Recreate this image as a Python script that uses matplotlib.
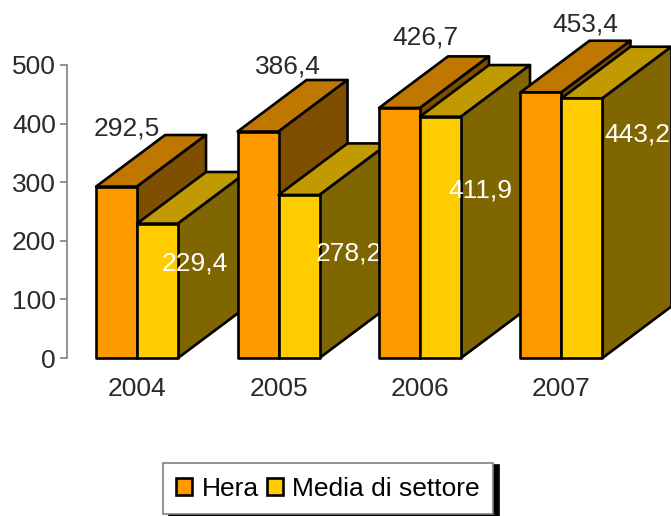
import matplotlib
matplotlib.use("Agg")
import matplotlib.pyplot as plt
from matplotlib.patches import Patch, Polygon

plt.rcParams["font.family"] = ["Liberation Sans", "DejaVu Sans"]

years = ["2004", "2005", "2006", "2007"]
hera = [292.5, 386.4, 426.7, 453.4]
media = [229.4, 278.2, 411.9, 443.2]
yticks = [0, 100, 200, 300, 400, 500]

W, H = 671, 516
TXT = "#2a2a2a"
FS = 19
fig = plt.figure(figsize=(W / 100, H / 100), dpi=100)
ax = fig.add_axes([67 / W, 1 - 358 / H, (W - 67) / W, (358 - 65) / H])
ax.set_xlim(-0.495, 3.774)
ax.set_ylim(0, 500)

# fake 3d depth, in data units
bar_w = 41 / 141.5
dx = 69 / 141.5
dy = 88


def box(x, v, front, top, side, z):
    lw = 1.9
    ax.add_patch(Polygon([(x, v), (x + bar_w, v), (x + bar_w + dx, v + dy), (x + dx, v + dy)],
                         fc=top, ec="black", lw=lw, zorder=z, clip_on=False, joinstyle="round"))
    ax.add_patch(Polygon([(x + bar_w, 0), (x + bar_w + dx, dy), (x + bar_w + dx, v + dy), (x + bar_w, v)],
                         fc=side, ec="black", lw=lw, zorder=z, clip_on=False, joinstyle="round"))
    ax.add_patch(Polygon([(x, 0), (x + bar_w, 0), (x + bar_w, v), (x, v)],
                         fc=front, ec="black", lw=lw, zorder=z, clip_on=False, joinstyle="round"))


# label offsets from top of front face, pixels
hera_off = [(10, 58), (30, 65), (26, 70), (44, 68)]
media_off = [(37, -40), (50, -59), (40, -74), (55, -36)]

for i in range(len(years)):
    z = 2 + i * 2
    box(i - bar_w, hera[i], "#ff9900", "#c07700", "#7f4f00", z)
    box(i, media[i], "#ffcc00", "#c09a00", "#806600", z + 0.5)
    ax.annotate(f"{hera[i]:.1f}".replace(".", ","), (i - bar_w / 2, hera[i]), xytext=hera_off[i],
                textcoords="offset pixels", ha="center", va="center", fontsize=FS,
                color=TXT, zorder=20)
    ax.annotate(f"{media[i]:.1f}".replace(".", ","), (i + bar_w / 2, media[i]), xytext=media_off[i],
                textcoords="offset pixels", ha="center", va="center", fontsize=FS,
                color="white", zorder=z + 1)

for s in ["top", "right", "bottom"]:
    ax.spines[s].set_visible(False)
ax.spines["left"].set_color("#808080")
ax.spines["left"].set_linewidth(1.2)
ax.set_yticks(yticks)
ax.set_xticks(range(len(years)), years)
ax.tick_params(axis="y", length=5, width=1.2, color="#808080", labelsize=FS, labelcolor=TXT, pad=3)
ax.tick_params(axis="x", length=0, labelsize=FS, labelcolor=TXT, pad=14)

handles = [Patch(fc="#ff9900", ec="black", lw=1.9, label="Hera"),
           Patch(fc="#ffcc00", ec="black", lw=1.9, label="Media di settore")]
leg = fig.legend(handles=handles, ncol=2, loc="center", bbox_to_anchor=(328 / W, 1 - 488.5 / H),
                 fontsize=FS, fancybox=False, framealpha=1, edgecolor="#808080",
                 shadow={"color": "black", "alpha": 1, "ox": 4.5, "oy": -1.5},
                 handlelength=0.62, handleheight=0.62, handletextpad=0.35, columnspacing=0.3,
                 borderpad=0.5, borderaxespad=0)
leg.get_frame().set_linewidth(1.2)

fig.savefig("out.png", dpi=100)
